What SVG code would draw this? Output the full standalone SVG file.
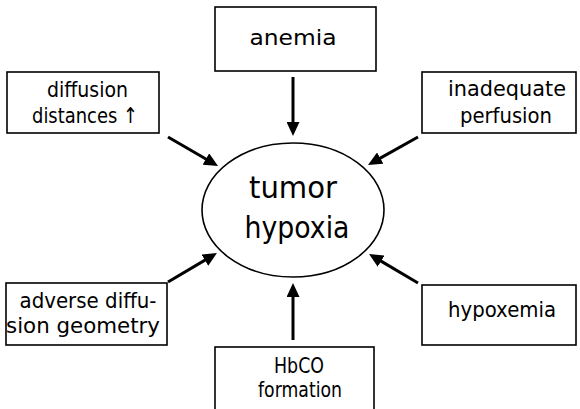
<svg xmlns="http://www.w3.org/2000/svg" width="580" height="409" viewBox="0 0 580 409">
<style>
.box{fill:#fff;stroke:#000;stroke-width:1.6}
.t{font-family:"DejaVu Sans","Liberation Sans",sans-serif;font-size:22px;fill:#000;text-anchor:middle}
.big{font-size:31px}
.arr{stroke:#000;stroke-width:3;fill:none;marker-end:url(#ah)}
</style>
<defs>
<marker id="ah" viewBox="0 0 14 13" refX="3" refY="6.5" markerWidth="14" markerHeight="13" markerUnits="userSpaceOnUse" orient="auto">
<path d="M0,0 L14,6.5 L0,13 z" fill="#000"/>
</marker>
</defs>
<rect width="580" height="409" fill="#fff"/>
<g id="connectors">
<line class="arr" x1="293" y1="77" x2="293" y2="125"/>
<line class="arr" x1="168" y1="137" x2="208.5" y2="160.5"/>
<line class="arr" x1="418" y1="137" x2="377.6" y2="159.6"/>
<line class="arr" x1="168" y1="282" x2="207.5" y2="258.6"/>
<line class="arr" x1="418" y1="283" x2="378.5" y2="259.6"/>
<line class="arr" x1="293" y1="340" x2="293" y2="294"/>
</g>
<g id="tumor-hypoxia">
<ellipse cx="293" cy="210" rx="91" ry="67" fill="#fff" stroke="#000" stroke-width="1.6"/>
<text class="t big" x="293" y="198" textLength="88" lengthAdjust="spacingAndGlyphs">tumor</text>
<text class="t big" x="297" y="238" textLength="105" lengthAdjust="spacingAndGlyphs">hypoxia</text>
</g>
<g id="anemia">
<rect class="box" x="215" y="7" width="161" height="64"/>
<text class="t" x="293" y="45" textLength="87" lengthAdjust="spacingAndGlyphs">anemia</text>
</g>
<g id="diffusion-distances">
<rect class="box" x="7" y="72" width="152" height="61"/>
<text class="t" x="87.5" y="97" textLength="81" lengthAdjust="spacingAndGlyphs">diffusion</text>
<text class="t" x="85" y="123" textLength="106" lengthAdjust="spacingAndGlyphs">distances ↑</text>
</g>
<g id="inadequate-perfusion">
<rect class="box" x="422" y="72" width="154" height="61"/>
<text class="t" x="507" y="96" textLength="118" lengthAdjust="spacingAndGlyphs">inadequate</text>
<text class="t" x="506" y="123" textLength="92" lengthAdjust="spacingAndGlyphs">perfusion</text>
</g>
<g id="adverse-diffusion-geometry">
<rect class="box" x="6" y="283" width="161" height="62"/>
<text class="t" x="88" y="308" textLength="137" lengthAdjust="spacingAndGlyphs">adverse diffu-</text>
<text class="t" x="83" y="333" textLength="154" lengthAdjust="spacingAndGlyphs">sion geometry</text>
</g>
<g id="hypoxemia">
<rect class="box" x="422" y="285" width="154" height="60"/>
<text class="t" x="502" y="317" textLength="108" lengthAdjust="spacingAndGlyphs">hypoxemia</text>
</g>
<g id="hbco-formation">
<rect class="box" x="215" y="347" width="159" height="70"/>
<text class="t" x="299" y="373" textLength="50" lengthAdjust="spacingAndGlyphs">HbCO</text>
<text class="t" x="300" y="397" textLength="84" lengthAdjust="spacingAndGlyphs">formation</text>
</g>
</svg>
